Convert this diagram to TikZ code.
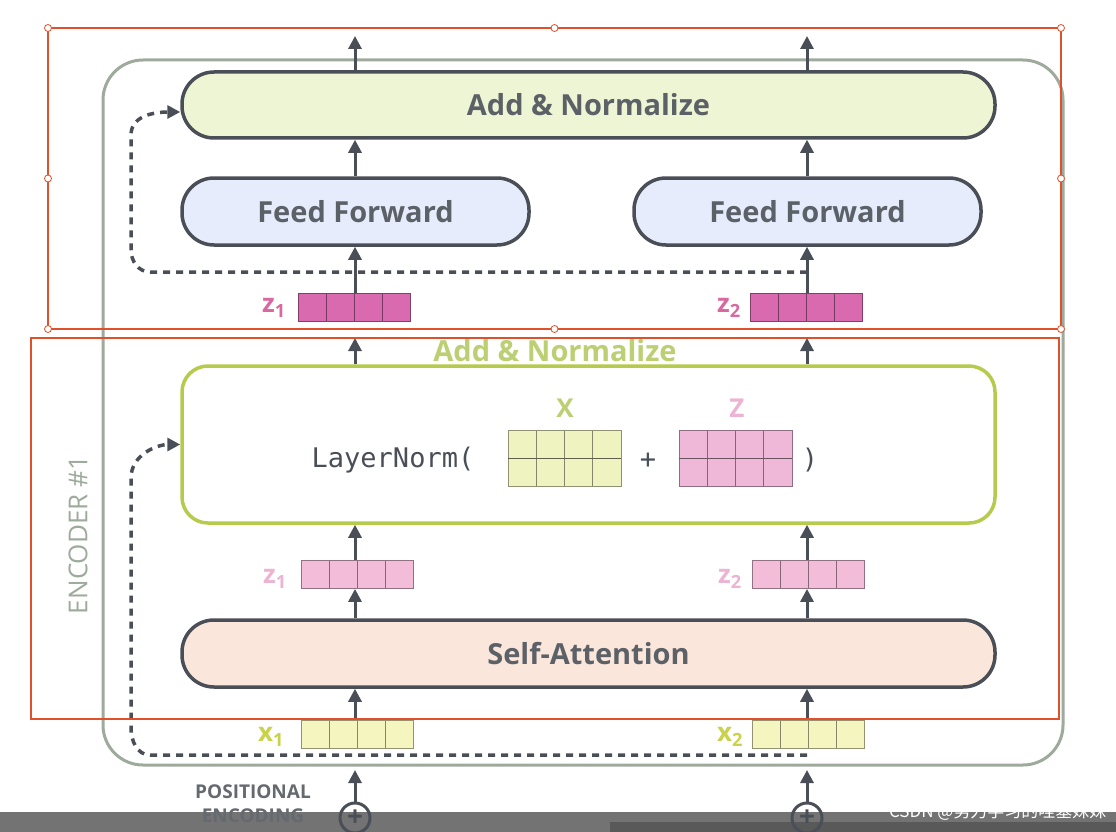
\documentclass[tikz,border=0pt]{standalone}
\usepackage{fontspec}
\setmainfont{Open Sans}
\newfontfamily\monof{DejaVu Sans Mono}
\newfontfamily\cjk{Noto Sans CJK SC}
\usetikzlibrary{arrows.meta,calc}
\definecolor{dk}{HTML}{4A4F57}
\definecolor{encg}{HTML}{9DAA9C}
\definecolor{redl}{HTML}{E0502A}
\definecolor{grn}{HTML}{B6CA4C}
\definecolor{grnT}{HTML}{BCCF72}
\definecolor{pinkD}{HTML}{D8689F}
\definecolor{pinkL}{HTML}{EDB3D2}
\definecolor{ylw}{HTML}{C9D24A}
\definecolor{anF}{RGB}{238,245,212}
\definecolor{ffF}{RGB}{230,236,251}
\definecolor{saF}{RGB}{251,230,220}
\definecolor{mxF}{RGB}{238,243,192}
\definecolor{mzF}{RGB}{240,184,216}
\definecolor{zdF}{RGB}{217,106,175}
\definecolor{zlF}{RGB}{243,188,217}
\definecolor{xF}{RGB}{245,245,192}
\begin{document}
\begin{tikzpicture}[x=1pt,y=-1pt,
  box/.style={draw=dk,line width=3.5pt,rounded corners=32pt,font=\fontsize{29}{30}\selectfont\bfseries\color{dk!90}},
  arr/.style={draw=dk,line width=3pt,-{Triangle[width=13pt,length=13pt]}},
  resid/.style={draw=dk,line width=3.5pt,dash pattern=on 7pt off 6pt,-{Triangle[width=13pt,length=13pt]}},
  vec/.style={draw=#1!60!black,line width=0.8pt,minimum width=112pt,minimum height=28pt,inner sep=0pt,fill=#1,
    path picture={\foreach \i in {1,2,3}{\draw[#1!55!black,line width=0.8pt] ($(path picture bounding box.south west)!\i/4!(path picture bounding box.south east)$) -- ($(path picture bounding box.north west)!\i/4!(path picture bounding box.north east)$);}}},
  mat/.style={vec=#1,minimum width=113pt,minimum height=56pt},
  lab/.style={font=\fontsize{26}{26}\selectfont\bfseries},
  handle/.style={circle,draw=redl,fill=white,inner sep=0pt,minimum size=7pt,line width=0.8pt}]
\useasboundingbox (0,0) rectangle (1116,832);
\fill[white] (0,0) rectangle (1116,832);
% bottom bar
\fill[black!55] (0,812) rectangle (1116,832);
\fill[black!65] (610,822) rectangle (1116,832);
% encoder frame
\draw[encg,line width=3pt,rounded corners=40pt] (103,60) rectangle (1063,765);
\node[rotate=90,text=encg,font=\fontsize{26}{26}\selectfont] (enc) at (78,535) {ENCODER \#1};
% boxes
\node[box,fill=anF,minimum width=813pt,minimum height=66pt] (an) at (588.5,105) {Add \& Normalize};
\node[box,fill=ffF,minimum width=347pt,minimum height=67pt] (ff1) at (355.5,211.5) {Feed Forward};
\node[box,fill=ffF,minimum width=347pt,minimum height=67pt] (ff2) at (807.5,211.5) {Feed Forward};
\node[box,fill=saF,minimum width=813pt,minimum height=67pt] (sa) at (588.5,653.5) {Self-Attention};
\node[draw=grn,line width=3.5pt,rounded corners=26pt,fill=white,minimum width=813pt,minimum height=157pt] (ln) at (588.5,444.5) {};
\node[text=grnT,font=\fontsize{29}{30}\selectfont\bfseries] (antxt) at (555,351) {Add \& Normalize};
% layernorm content
\node[font=\monof\fontsize{27}{27}\selectfont,text=dk] (lnt) at (393,460) {LayerNorm(};
\node[mat=mxF] (mx) at (564.5,458) {};
\draw[mxF!40!black,line width=0.8pt] (mx.west) -- (mx.east);
\node[mat=mzF] (mz) at (735.5,458) {};
\draw[mzF!45!black,line width=0.8pt] (mz.west) -- (mz.east);
\node[font=\monof\fontsize{27}{27}\selectfont,text=dk] (plus) at (648,461) {+};
\node[font=\monof\fontsize{27}{27}\selectfont,text=dk] (rp) at (810,460) {)};
\node[lab,text=grnT] (xl) at (565,408) {X};
\node[lab,text=pinkL] (zl) at (737,408) {Z};
% vectors
\node[vec=zdF] (zd1) at (354,307) {};
\node[vec=zdF] (zd2) at (806,307) {};
\node[lab,text=pinkD] (zd1l) at (274,308) {z\textsubscript{1}};
\node[lab,text=pinkD] (zd2l) at (729,308) {z\textsubscript{2}};
\node[vec=zlF] (zl1) at (357,574.5) {};
\node[vec=zlF] (zl2) at (808.5,574.5) {};
\node[lab,text=pinkL] (zl1l) at (275,579) {z\textsubscript{1}};
\node[lab,text=pinkL] (zl2l) at (730,579) {z\textsubscript{2}};
\node[vec=xF] (x1) at (357,734.5) {};
\node[vec=xF] (x2) at (808.5,734.5) {};
\node[lab,text=ylw] (x1l) at (271,737) {x\textsubscript{1}};
\node[lab,text=ylw] (x2l) at (730,737) {x\textsubscript{2}};
% positional encoding
\node[align=center,text=dk!85,font=\fontsize{19}{24}\selectfont\bfseries] (pe) at (253,804) {POSITIONAL\\ENCODING};
\node[circle,draw=dk,line width=3pt,minimum size=30pt,inner sep=0pt,font=\fontsize{28}{28}\selectfont\bfseries,text=dk] (pl1) at (355,818) {+};
\node[circle,draw=dk,line width=3pt,minimum size=30pt,inner sep=0pt,font=\fontsize{28}{28}\selectfont\bfseries,text=dk] (pl2) at (807,818) {+};
\coordinate (t1) at (355,338);
\coordinate (t2) at (807,338);
\coordinate (top1) at (355,36);
\coordinate (top2) at (807,36);
\coordinate (pe1) at (355,770);
\coordinate (pe2) at (807,770);
\coordinate (pb1) at (355,803);
\coordinate (pb2) at (807,803);
% arrows
\foreach \c in {1,2}{
  \draw[arr] (pb\c) -- (pe\c);
  \draw[arr] (x\c.north -| pl\c) -- (sa.south -| pl\c);
  \draw[arr] (sa.north -| pl\c) -- (zl\c.south -| pl\c);
  \draw[arr] (zl\c.north -| pl\c) -- (ln.south -| pl\c);
  \draw[arr] (ln.north -| pl\c) -- (t\c);
  \draw[arr] (ff\c.north -| pl\c) -- (an.south -| pl\c);
  \draw[arr] (an.north -| pl\c) -- (top\c);
}
\draw[arr] (zd1.north -| pl1) -- (ff1.south -| pl1);
\draw[arr] (zd2.north -| pl2) -- (ff2.south -| pl2);
% residual dashed
\draw[resid] (807,755) -- (150,755) to[out=180,in=270] (131,728) -- (131,478) to[out=90,in=180] (ln.west);
\draw[resid] (807,272) -- (150,272) to[out=180,in=270] (131,250) -- (131,135) to[out=90,in=180] (an.west |- 0,112);
% red selection rectangles
\draw[redl,line width=2pt] (48,28) rectangle (1061,329);
\draw[redl,line width=2pt] (31,338) rectangle (1059,719);
\foreach \p in {(48,28),(554.5,28),(1061,28),(48,178.5),(1061,178.5),(48,329),(554.5,329),(1061,329)}
  \node[handle] at \p {};
\node[text=white,font=\cjk\fontsize{17}{17}\selectfont,anchor=east] (wm) at (1110,812) {CSDN @努力学习的哇塞妹妹};
\end{tikzpicture}
\end{document}
